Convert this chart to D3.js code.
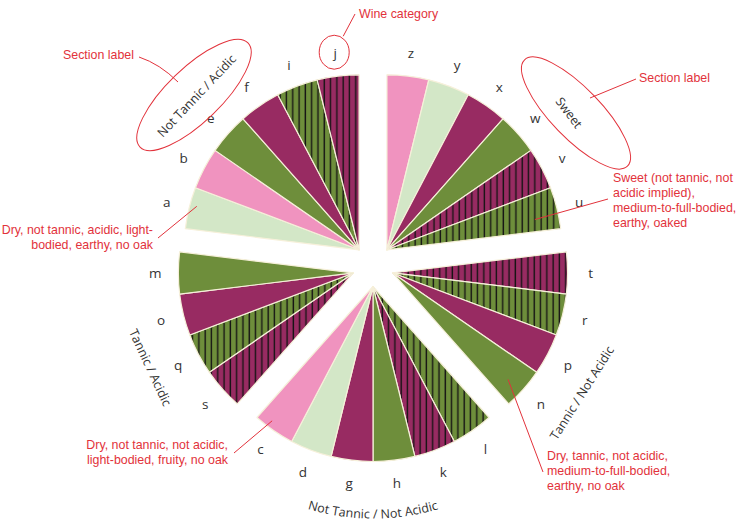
<!DOCTYPE html>
<html><head><meta charset="utf-8">
<script src="https://cdn.jsdelivr.net/npm/d3@7"></script>
<style>body{margin:0;background:#fff}</style>
</head><body>
<svg id="c" width="740" height="526"></svg>
<script>
// ---- data ----
const sections = ["Sweet","Tannic / Not Acidic","Not Tannic / Not Acidic","Tannic / Acidic","Not Tannic / Acidic"];
const sectionSizes = [6,4,6,4,6];
const categories = ["z","y","x","w","v","u","t","r","p","n","l","k","h","g","d","c","s","q","o","m","a","b","e","f","i","j"];
const wineColor = ["pink","light","purple","green","purple","green",
                   "purple","green","purple","green",
                   "green","purple","green","purple","light","pink",
                   "purple","green","purple","green",
                   "light","pink","green","purple","green","purple"];
const oaked = [0,0,0,0,1,1, 1,1,0,0, 1,1,0,0,0,0, 1,1,0,0, 0,0,0,0,1,1];
const notes = [
  {cat:"u", lines:["Sweet (not tannic, not","acidic implied),","medium-to-full-bodied,","earthy, oaked"]},
  {cat:"a", lines:["Dry, not tannic, acidic, light-","bodied, earthy, no oak"]},
  {cat:"c", lines:["Dry, not tannic, not acidic,","light-bodied, fruity, no oak"]},
  {cat:"n", lines:["Dry, tannic, not acidic,","medium-to-full-bodied,","earthy, no oak"]}
];

// ---- layout ----
const svg = d3.select("#c");
const cx = 373, cy = 265.5, R = 175, explode = 21, labelR = 198, secR = 224;
const palette = {pink:"#f093bf", light:"#d3e7c7", purple:"#982b62", green:"#6e8e3b"};
const red = "#e2323b";

const defs = svg.append("defs");
["purple","green"].forEach(k=>{
  const p = defs.append("pattern").attr("id","h-"+k).attr("patternUnits","userSpaceOnUse")
    .attr("width",6.3).attr("height",10);
  p.append("rect").attr("width",6.3).attr("height",10).attr("fill",palette[k]);
  p.append("line").attr("x1",3).attr("x2",3).attr("y1",0).attr("y2",10)
    .attr("stroke","#161414").attr("stroke-width",1.4);
});

const secIdx = [];
sectionSizes.forEach((n,i)=>{for(let k=0;k<n;k++) secIdx.push(i);});

const pie = d3.pie().value(1).sort(null);
const arcsData = pie(categories);
const secExt = sections.map((s,i)=>{
  const ds = arcsData.filter((d,j)=>secIdx[j]===i);
  return [ds[0].startAngle, ds[ds.length-1].endAngle];
});
const apex = secExt.map(([a0,a1])=>{
  const m=(a0+a1)/2; return [cx+explode*Math.sin(m), cy-explode*Math.cos(m)];
});
const polar = (i,ang,r)=>[apex[i][0]+r*Math.sin(ang), apex[i][1]-r*Math.cos(ang)];

const arc = d3.arc().innerRadius(0).outerRadius(R);
svg.append("g").selectAll("path.w").data(arcsData).join("path")
  .attr("class","w")
  .attr("transform",(d,j)=>`translate(${apex[secIdx[j]][0]},${apex[secIdx[j]][1]})`)
  .attr("d",arc)
  .attr("fill",(d,j)=> oaked[j] ? `url(#h-${wineColor[j]})` : palette[wineColor[j]])
  .attr("stroke","#f6f0da").attr("stroke-width",1.2).attr("stroke-linejoin","round");

// category letters
svg.selectAll("text.cat").data(arcsData).join("text")
  .attr("class","cat")
  .attr("x",(d,j)=>polar(secIdx[j],(d.startAngle+d.endAngle)/2,labelR)[0])
  .attr("y",(d,j)=>polar(secIdx[j],(d.startAngle+d.endAngle)/2,labelR)[1])
  .attr("text-anchor","middle").attr("dominant-baseline","central")
  .attr("font-family","'Open Sans', sans-serif").attr("font-size",13.5).attr("fill","#333")
  .text(d=>d.data);

// section labels
const secNudge = [11.5, 11.6, 0, -4.2, -5];
const secRad = [228, 224, 224, 224, 224];
const secPos = sections.map((s,i)=>{
  const m = (secExt[i][0]+secExt[i][1])/2 + secNudge[i]*Math.PI/180;
  const p = polar(i,m,secRad[i]);
  let rot = m*180/Math.PI; if(rot>90 && rot<270) rot -= 180;
  return {p, rot, m};
});
sections.forEach((s,i)=>{
  if(i===2){
    const r = secR+8;
    const p0 = polar(i, 210*Math.PI/180, r), p1 = polar(i, 150*Math.PI/180, r);
    defs.append("path").attr("id","botArc").attr("d",`M${p0[0]},${p0[1]} A${r},${r} 0 0 0 ${p1[0]},${p1[1]}`);
    svg.append("text").attr("font-family","'Open Sans', sans-serif").attr("font-size",12.5).attr("fill","#333")
      .append("textPath").attr("href","#botArc").attr("startOffset","50%").attr("text-anchor","middle").text(s);
  } else {
    svg.append("text").attr("transform",`translate(${secPos[i].p[0]},${secPos[i].p[1]}) rotate(${secPos[i].rot})`)
      .attr("text-anchor","middle").attr("dominant-baseline","central")
      .attr("font-family","'Open Sans', sans-serif").attr("font-size",12.5).attr("fill","#333").text(s);
  }
});

// ---- annotations ----
const ann = svg.append("g").attr("fill","none").attr("stroke",red).attr("stroke-width",1);
const txt = (x,y,t,anchor)=>svg.append("text").attr("x",x).attr("y",y).attr("text-anchor",anchor||"start")
  .attr("font-family","'Liberation Sans', Arial, sans-serif").attr("font-size",12.4).attr("fill",red).text(t);

const jIdx = categories.indexOf("j");
const jd = arcsData[jIdx];
const jp = polar(secIdx[jIdx],(jd.startAngle+jd.endAngle)/2,labelR);
ann.append("ellipse").attr("cx",jp[0]-1).attr("cy",jp[1]-1).attr("rx",15).attr("ry",17);
ann.append("path").attr("d",`M355,14 L${jp[0]+8},${jp[1]-17}`);
txt(359,18,"Wine category");

// Section label callouts: ellipse centre, rotation, radii, text position, leader
[[194,95,-44,75,27,63,59,"M139,57 Q160,64 178,82"],[576,113,46,74,25,639,82,"M636,79 L590,98"]].forEach(([ex,ey,rot,rx,ry,tx,ty,d])=>{
  ann.append("ellipse").attr("transform",`translate(${ex},${ey}) rotate(${rot})`)
    .attr("rx",rx).attr("ry",ry);
  ann.append("path").attr("d",d);
  txt(tx,ty,"Section label");
});

const noteLayout = {
  u:{x:613,y:182,anchor:"start",from:[608,199],r:151,da:0.04},
  a:{x:153,y:234,anchor:"end",from:[158,238],r:168,da:0.02},
  c:{x:228,y:449,anchor:"end",from:[234,453],r:168,da:0.04},
  n:{x:547,y:460,anchor:"start",from:[543,472],r:157,da:0.02}
};
notes.forEach(n=>{
  const L = noteLayout[n.cat];
  const j = categories.indexOf(n.cat), d = arcsData[j];
  const p = polar(secIdx[j],(d.startAngle+d.endAngle)/2 + L.da,L.r);
  ann.append("path").attr("d",`M${L.from[0]},${L.from[1]} L${p[0]},${p[1]}`);
  n.lines.forEach((t,k)=>txt(L.x,L.y+k*15,t,L.anchor));
});
</script>
</body></html>
